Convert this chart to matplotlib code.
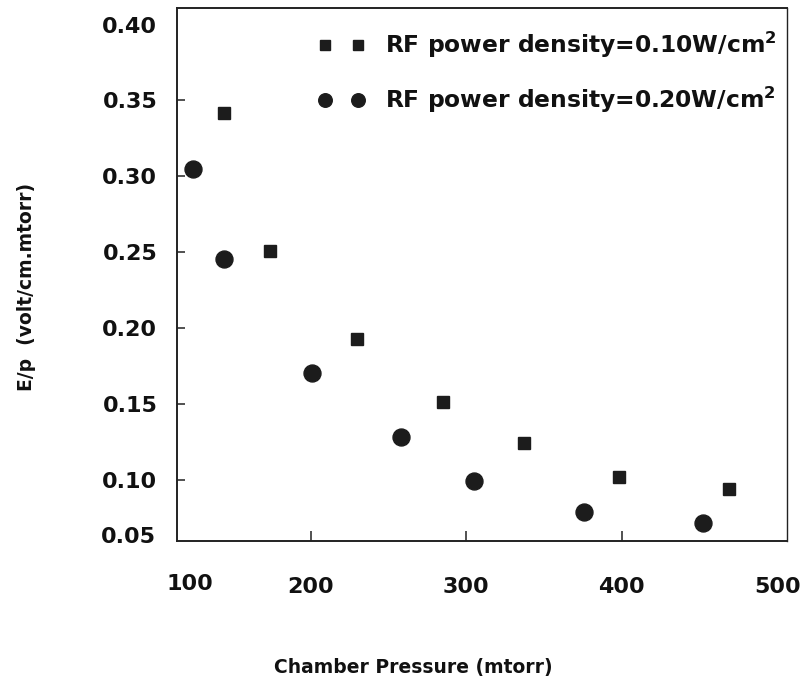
import matplotlib
matplotlib.use("Agg")
import matplotlib.pyplot as plt

# Data
p_010 = [144, 174, 230, 285, 337, 398, 469]          # Chamber pressure (mtorr)
ep_010 = [0.342, 0.251, 0.193, 0.151, 0.124, 0.102, 0.094]
p_020 = [124, 144, 201, 258, 305, 376, 452]
ep_020 = [0.305, 0.2455, 0.170, 0.128, 0.099, 0.079, 0.0716]

label_010 = r"RF power density=0.10W/cm$^{\mathbf{2}}$"
label_020 = r"RF power density=0.20W/cm$^{\mathbf{2}}$"

xticks = [200, 300, 400, 500]
xticklabels = ["200", "300", "400", "500"]
yticks = [0.10, 0.15, 0.20, 0.25, 0.30, 0.35, 0.40]
yticklabels = ["0.10", "0.15", "0.20", "0.25", "0.30", "0.35", "0.40"]

plt.rcParams['font.family'] = ['DejaVu Sans']
plt.rcParams['font.weight'] = 'bold'
plt.rcParams['mathtext.default'] = 'bf'

W, H = 803, 691
fig = plt.figure(figsize=(W / 100, H / 100), dpi=100)
ax = fig.add_axes([176.7 / W, 1 - 541 / H, (787 - 176.7) / W, (541 - 8.3) / H])

ink = '#1c1c1c'
ax.plot(p_010, ep_010, linestyle='none', marker='s', markersize=9.2,
        color=ink, label=label_010)
ax.plot(p_020, ep_020, linestyle='none', marker='o', markersize=12.2,
        color=ink, label=label_020)

ax.set_xlim(113.8, 506.3)
ax.set_ylim(0.0596, 0.4107)

ax.set_xticks(xticks)
ax.set_xticklabels(xticklabels)
ax.set_yticks(yticks)
ax.set_yticklabels(yticklabels)

for s in ax.spines.values():
    s.set_linewidth(1.4)
    s.set_color('#222222')
ax.spines['right'].set_linewidth(1.0)

ax.tick_params(axis='both', direction='in', color='#333333', width=1.2,
               labelsize=16, labelcolor='#111111')
ax.tick_params(axis='x', length=7, pad=26)
ax.tick_params(axis='y', length=6, pad=14)
# hide tick marks that are not drawn in the reference
ax.xaxis.get_major_ticks()[-1].tick1line.set_visible(False)
ax.yaxis.get_major_ticks()[-1].tick1line.set_visible(False)
for t in ax.get_xticklabels() + ax.get_yticklabels():
    t.set_fontweight('bold')

# end labels placed outside the data range in the reference
fig.text(190 / W, 1 - 584 / H, "100", ha='center', va='center',
         fontsize=16, fontweight='bold', color='#111111')
fig.text(156 / W, 1 - 537 / H, "0.05", ha='right', va='center',
         fontsize=16, fontweight='bold', color='#111111')

fig.text(413 / W, 1 - 668 / H, "Chamber Pressure (mtorr)", ha='center', va='center',
         fontsize=13.5, fontweight='bold', color='#111111')
fig.text(27 / W, 1 - 287 / H, "E/p  (volt/cm.mtorr)", ha='center', va='center',
         rotation=90, fontsize=13.5, fontweight='bold', color='#111111')

leg = ax.legend(loc='upper left', bbox_to_anchor=(318 / W, 1 - 30 / H),
                bbox_transform=fig.transFigure, frameon=False, numpoints=2,
                handlelength=2.0, handletextpad=0.86, labelspacing=1.05,
                markerscale=0.8, prop={'size': 16.8, 'weight': 'bold'},
                borderpad=0, borderaxespad=0)
for t in leg.get_texts():
    t.set_color('#111111')

fig.savefig("out.png", dpi=100)
